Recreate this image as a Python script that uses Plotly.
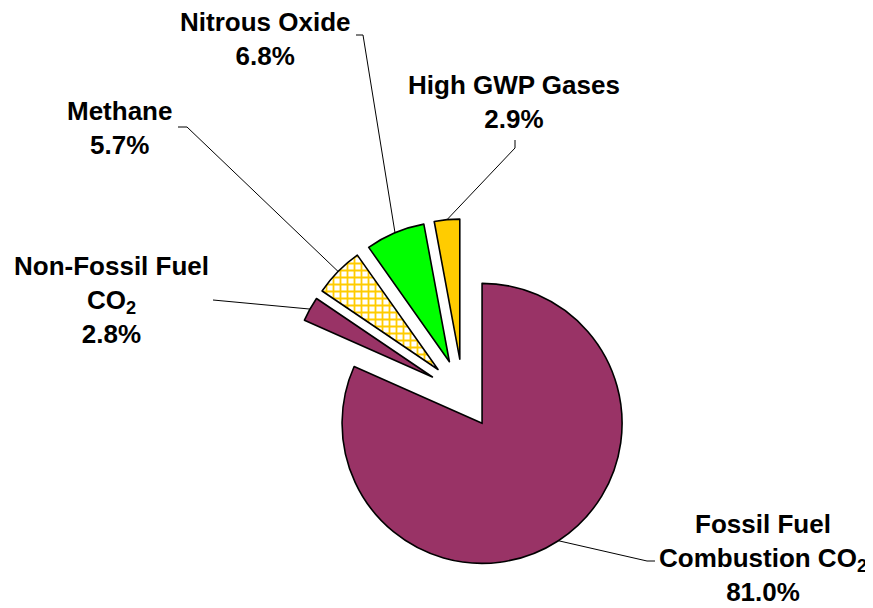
import math
import plotly.graph_objects as go

# DATA
labels = ["Fossil Fuel<br>Combustion CO<sub>2</sub>", "Non-Fossil Fuel<br>CO<sub>2</sub>",
          "Methane", "Nitrous Oxide", "High GWP Gases"]
values = [81.0, 2.8, 5.7, 6.8, 2.9]
colors = ["#993366", "#993366", "#FFFFFF", "#00FF00", "#FFCC00"]
patterns = ["", "", "+", "", ""]

# LAYOUT (pixels in the page; the html body adds an 8px margin)
PAGE_W, PAGE_H = 873, 608
OFF = 8
W, H = PAGE_W - OFF, PAGE_H - OFF
cx, cy = 463, 394          # pie centre
radius = 140
pull = 0.25
box = 2 * radius * (1 + pull)

# label centres and the start of each leader line (elbow points)
label_pos = [(763, 558), (111, 300), (120, 128), (265, 39), (514, 102)]
leader_start = [[(655, 561), (647, 561)],
                [(213, 300)],
                [(178, 127), (187, 127)],
                [(356, 35), (363, 35)],
                [(515, 140), (515, 148)]]


def px(x, y):
    return (x - OFF) / W, 1 - (y - OFF) / H


fig = go.Figure(go.Pie(
    labels=[l.replace("<br>", " ") for l in labels],
    values=values,
    sort=False,
    direction="clockwise",
    rotation=0,
    pull=[pull] * len(values),
    textinfo="none",
    marker=dict(colors=colors, line=dict(color="black", width=1.6),
                pattern=dict(shape=patterns, fgcolor="#FFCC00", bgcolor="white",
                             size=7, solidity=0.45)),
    domain=dict(x=[px(cx - box / 2, 0)[0], px(cx + box / 2, 0)[0]],
                y=[px(0, cy + box / 2)[1], px(0, cy - box / 2)[1]]),
    showlegend=False,
    hovertemplate="%{label}: %{value}%<extra></extra>",
))

# leader lines from label to the middle of each (pulled) slice's arc
total = sum(values)
start = 0
for i, v in enumerate(values):
    mid = math.radians((start + v / 2) / total * 360)
    start += v
    ex = cx + radius * (1 + pull) * math.sin(mid)
    ey = cy - radius * (1 + pull) * math.cos(mid)
    pts = leader_start[i] + [(ex, ey)]
    for (x0, y0), (x1, y1) in zip(pts[:-1], pts[1:]):
        a0, b0 = px(x0, y0)
        a1, b1 = px(x1, y1)
        fig.add_shape(type="line", xref="paper", yref="paper",
                      x0=a0, y0=b0, x1=a1, y1=b1,
                      line=dict(color="black", width=1))
    lx, ly = px(*label_pos[i])
    fig.add_annotation(x=lx, y=ly, xref="paper", yref="paper",
                       text=f"<b>{labels[i]}<br>{v:.1f}%</b>",
                       showarrow=False, xanchor="center", yanchor="middle",
                       align="center",
                       font=dict(family="Liberation Sans, Arial", size=26, color="black"))

fig.update_layout(
    width=W, height=H,
    margin=dict(l=0, r=0, t=0, b=0),
    paper_bgcolor="white",
    plot_bgcolor="white",
)

fig.write_html("out.html")
